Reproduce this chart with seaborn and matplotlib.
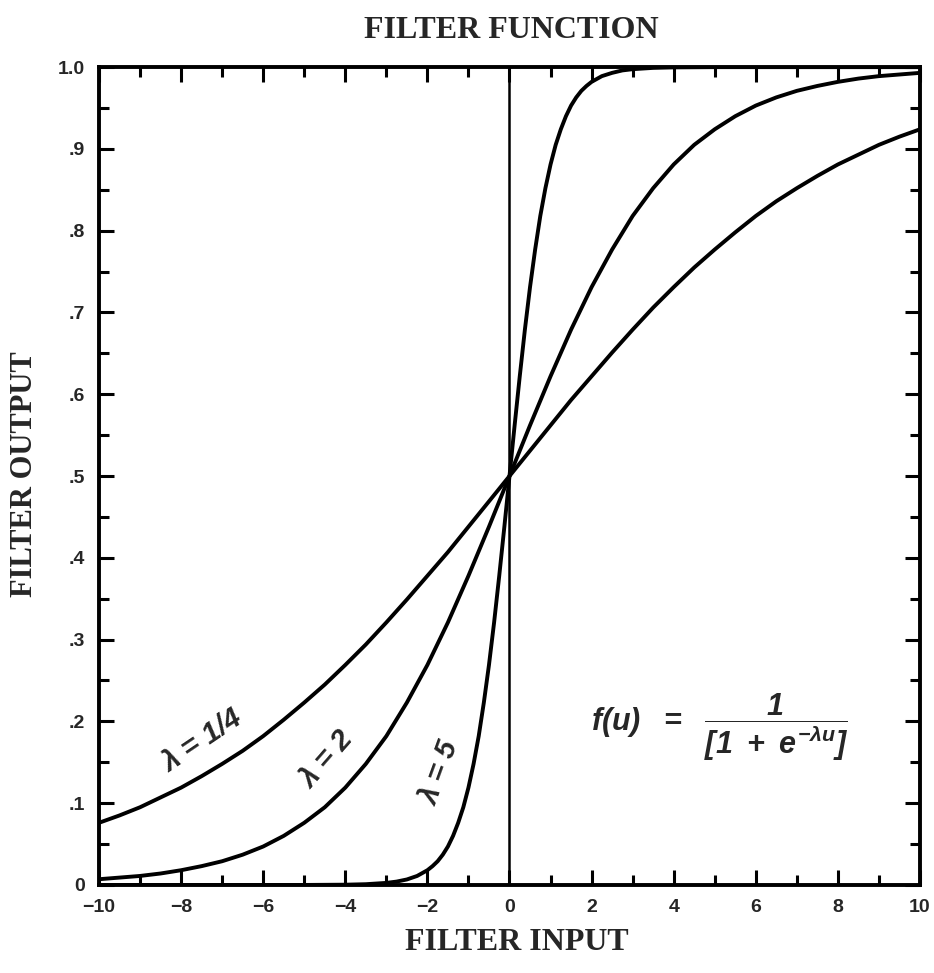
import matplotlib
matplotlib.use("Agg")
from matplotlib import pyplot as plt
from matplotlib.ticker import MultipleLocator, FixedLocator
import pandas as pd
import seaborn as sns

# values
u_a = [-10, -9.5, -9, -8.5, -8, -7.5, -7, -6.5, -6, -5.5, -5, -4.5, -4, -3.5, -3, -2.5,
       -2, -1.5, -1, -0.5, 0, 0.5, 1, 1.5, 2, 2.5, 3, 3.5, 4, 4.5, 5, 5.5, 6, 6.5, 7,
       7.5, 8, 8.5, 9, 9.5, 10]
f_a = [0.076, 0.085, 0.095, 0.107, 0.119, 0.133, 0.148, 0.164, 0.182, 0.202, 0.223,
       0.245, 0.269, 0.294, 0.321, 0.349, 0.378, 0.407, 0.438, 0.469, 0.500, 0.531,
       0.562, 0.593, 0.622, 0.651, 0.679, 0.706, 0.731, 0.755, 0.777, 0.798, 0.818,
       0.836, 0.852, 0.867, 0.881, 0.893, 0.905, 0.915, 0.924]

u_b = [-10, -9.5, -9, -8.5, -8, -7.5, -7, -6.5, -6, -5.5, -5, -4.5, -4, -3.5, -3, -2.5,
       -2, -1.5, -1, -0.5, 0, 0.5, 1, 1.5, 2, 2.5, 3, 3.5, 4, 4.5, 5, 5.5, 6, 6.5, 7,
       7.5, 8, 8.5, 9, 9.5, 10]
f_b = [0.007, 0.009, 0.011, 0.014, 0.018, 0.023, 0.029, 0.037, 0.047, 0.060, 0.076,
       0.095, 0.119, 0.148, 0.182, 0.223, 0.269, 0.321, 0.378, 0.438, 0.500, 0.562,
       0.622, 0.679, 0.731, 0.777, 0.818, 0.852, 0.881, 0.905, 0.924, 0.940, 0.953,
       0.963, 0.971, 0.977, 0.982, 0.986, 0.989, 0.991, 0.993]

u_c = [-10, -8, -6, -5, -4, -3.5, -3, -2.75, -2.5, -2.25, -2, -1.875, -1.75, -1.625,
       -1.5, -1.375, -1.25, -1.125, -1, -0.875, -0.75, -0.625, -0.5, -0.375, -0.25,
       -0.125, 0, 0.125, 0.25, 0.375, 0.5, 0.625, 0.75, 0.875, 1, 1.125, 1.25, 1.375,
       1.5, 1.625, 1.75, 1.875, 2, 2.25, 2.5, 2.75, 3, 3.5, 4, 5, 6, 8, 10]
f_c = [0.000, 0.000, 0.000, 0.000, 0.0003, 0.0009, 0.0025, 0.0041, 0.0067, 0.011,
       0.018, 0.023, 0.029, 0.037, 0.047, 0.060, 0.076, 0.095, 0.119, 0.148, 0.182,
       0.223, 0.269, 0.321, 0.378, 0.438, 0.500, 0.562, 0.622, 0.679, 0.731, 0.777,
       0.818, 0.852, 0.881, 0.905, 0.924, 0.940, 0.953, 0.963, 0.971, 0.977, 0.982,
       0.989, 0.993, 0.996, 0.9975, 0.9991, 0.9997, 1.0, 1.0, 1.0, 1.0]

curve_labels = ["λ = 1/4", "λ = 2", "λ = 5"]
x_ticks = [-10, -8, -6, -4, -2, 0, 2, 4, 6, 8, 10]
x_ticklabels = ["−10", "−8", "−6", "−4", "−2", "0", "2", "4", "6", "8", "10"]
y_ticks = [0, 0.1, 0.2, 0.3, 0.4, 0.5, 0.6, 0.7, 0.8, 0.9, 1.0]
y_ticklabels = ["0", ".1", ".2", ".3", ".4", ".5", ".6", ".7", ".8", ".9", "1.0"]

df = pd.concat([
    pd.DataFrame({"u": u_a, "f": f_a, "curve": curve_labels[0]}),
    pd.DataFrame({"u": u_b, "f": f_b, "curve": curve_labels[1]}),
    pd.DataFrame({"u": u_c, "f": f_c, "curve": curve_labels[2]}),
])

sns.set_style("ticks")
plt.rcParams["font.family"] = ["Liberation Sans", "DejaVu Sans"]
plt.rcParams["mathtext.fontset"] = "custom"
plt.rcParams["mathtext.rm"] = "Liberation Sans:italic:bold"
plt.rcParams["mathtext.it"] = "Liberation Sans:italic:bold"
plt.rcParams["mathtext.bf"] = "Liberation Sans:bold"

fig = plt.figure(figsize=(9.34, 9.73), dpi=100)
ax = fig.add_axes([0.106, 0.0905, 0.879, 0.8405])

sns.lineplot(data=df, x="u", y="f", hue="curve", palette=["black"] * 3,
             estimator=None, legend=False, linewidth=2.8, ax=ax,
             solid_joinstyle="round", solid_capstyle="round")
ax.axvline(0, color="black", linewidth=1.8)

ax.set_xlim(-10, 10)
ax.set_ylim(0, 1)

for side in ["left", "right", "top", "bottom"]:
    ax.spines[side].set_linewidth(2.8)
    ax.spines[side].set_color("black")

ax.xaxis.set_major_locator(FixedLocator(x_ticks))
ax.xaxis.set_minor_locator(MultipleLocator(1))
ax.yaxis.set_major_locator(FixedLocator(y_ticks))
ax.yaxis.set_minor_locator(MultipleLocator(0.05))
ax.set_xticklabels(x_ticklabels)
ax.set_yticklabels(y_ticklabels)
ax.tick_params(which="both", direction="in", top=True, right=True, width=2.2, color="black")
ax.tick_params(which="major", length=11, labelsize=14, pad=10)
ax.tick_params(which="minor", length=7)
for lab in ax.get_xticklabels() + ax.get_yticklabels():
    lab.set_fontweight("bold")

ax.set_xlabel("")
ax.set_ylabel("")
fig.text(0.547, 0.969, "FILTER FUNCTION", ha="center", va="center",
         family="Liberation Serif", fontweight="bold", fontsize=23)
fig.text(0.553, 0.031, "FILTER INPUT", ha="center", va="center",
         family="Liberation Serif", fontweight="bold", fontsize=23)
fig.text(0.026, 0.513, "FILTER OUTPUT", ha="center", va="center", rotation=90,
         family="Liberation Serif", fontweight="bold", fontsize=22)

# curve labels
ax.text(-7.49, 0.176, curve_labels[0], rotation=34, ha="center", va="center",
        fontsize=21, style="italic", fontweight="bold", rotation_mode="anchor")
ax.text(-4.45, 0.153, curve_labels[1], rotation=49, ha="center", va="center",
        fontsize=21, style="italic", fontweight="bold", rotation_mode="anchor")
ax.text(-1.69, 0.137, curve_labels[2], rotation=70, ha="center", va="center",
        fontsize=21, style="italic", fontweight="bold", rotation_mode="anchor")

ax.text(5.13, 0.193, r"$f(u)\ \ =\ \ \dfrac{1}{[1\ +\ e^{-\lambda u}]}$",
        ha="center", va="center", fontsize=22)

fig.savefig("out.png", dpi=100)
